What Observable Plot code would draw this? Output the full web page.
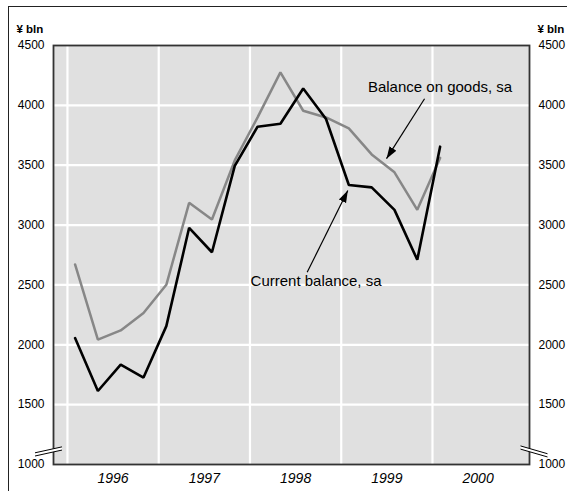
<!DOCTYPE html>
<html><head><meta charset="utf-8">
<script src="https://cdn.jsdelivr.net/npm/d3@7"></script>
<script src="https://cdn.jsdelivr.net/npm/@observablehq/plot@0.6"></script>
<style>
body{margin:0;background:#fff;}
#wrap{position:relative;width:567px;height:491px;overflow:hidden;}
#wrap svg{position:absolute;left:0;top:0;}
#border{position:absolute;left:8px;top:6px;width:600px;height:600px;border-top:1.5px solid #222;border-left:1.5px solid #222;pointer-events:none;}
</style></head><body>
<div id="wrap"><div id="border"></div></div>
<script>
const quarters = ["1996 Q1","1996 Q2","1996 Q3","1996 Q4","1997 Q1","1997 Q2","1997 Q3","1997 Q4",
  "1998 Q1","1998 Q2","1998 Q3","1998 Q4","1999 Q1","1999 Q2","1999 Q3","1999 Q4","2000 Q1"];
const currentBalance = [2056,1614,1834,1726,2156,2977,2773,3495,3822,3846,4141,3886,3335,3315,3127,2710,3655];
const goodsBalance   = [2671,2043,2120,2265,2501,3186,3046,3540,3900,4275,3955,3899,3808,3590,3441,3127,3561];
const yTicks = [1000,1500,2000,2500,3000,3500,4000,4500];
const years = [1996,1997,1998,1999,2000];
const unitLabel = "¥ bln";
const annotations = [
  {label: "Balance on goods, sa", tx: 2000.083, ty: 4150, x1: 1999.913, y1: 4055, x2: 1999.496, y2: 3555},
  {label: "Current balance, sa", tx: 1998.724, ty: 2529, x1: 1998.627, y1: 2606, x2: 1999.072, y2: 3288}
];

const qPos = q => { const [y, n] = q.split(" Q"); return +y + (+n - 1) / 4 + 1 / 12; };
const rows = quarters.map((q, i) => ({t: qPos(q), current: currentBalance[i], goods: goodsBalance[i]}));

const font = "Liberation Sans, Arial, Helvetica, sans-serif";
const plot = Plot.plot({
  width: 567, height: 491,
  marginLeft: 53, marginRight: 38, marginTop: 45, marginBottom: 27,
  style: {fontFamily: font, fontSize: "12px", background: "transparent", color: "#000"},
  x: {domain: [1995.847, 2001.063], axis: null},
  y: {domain: [1000, 4500], axis: "both", ticks: yTicks, tickSize: 0, tickPadding: 9, label: null, tickFormat: d => String(d)},
  marks: [
    Plot.frame({fill: "#e0e0e0", stroke: null}),
    Plot.ruleY(yTicks.slice(1, -1), {stroke: "#fff", strokeWidth: 2.2}),
    Plot.ruleX(years, {stroke: "#fff", strokeWidth: 2.2}),
    Plot.line(rows, {x: "t", y: "goods", stroke: "#878787", strokeWidth: 2.5, strokeLinejoin: "miter"}),
    Plot.line(rows, {x: "t", y: "current", stroke: "#000", strokeWidth: 2.6, strokeLinejoin: "miter"}),
    Plot.link(annotations, {x1: "x1", y1: "y1", x2: "x2", y2: "y2", stroke: "#000", strokeWidth: 1.2}),
    Plot.text(annotations, {x: "tx", y: "ty", text: "label", fontSize: 15, fill: "#000"}),
    Plot.text(years, {x: d => d + 0.5, text: d => String(d), frameAnchor: "bottom", dy: 18.5, fontSize: 14, fontStyle: "italic", fill: "#000"}),
    Plot.text([unitLabel], {text: d => d, frameAnchor: "top-left", dx: -37, dy: -21, textAnchor: "start", fontWeight: "bold", fontSize: 11.5, fill: "#000"}),
    Plot.text([unitLabel], {text: d => d, frameAnchor: "top-right", dx: 8, dy: -21, textAnchor: "start", fontWeight: "bold", fontSize: 11.5, fill: "#000"}),
    Plot.frame({stroke: "#333", strokeWidth: 1.8})
  ]
});

const svg = d3.select(plot);
const defs = svg.append("defs");
defs.append("marker").attr("id", "head").attr("viewBox", "0 -5 12 10").attr("refX", 12).attr("refY", 0)
  .attr("markerWidth", 12).attr("markerHeight", 10).attr("markerUnits", "userSpaceOnUse").attr("orient", "auto")
  .append("path").attr("d", "M0,-4L12,0L0,4Z").attr("fill", "#000");
svg.selectAll('g[aria-label="link"] path').attr("marker-end", "url(#head)");

// axis break symbols
const xs = plot.scale("x"), ys = plot.scale("y");
const xL = xs.apply(xs.domain[0]), xR = xs.apply(xs.domain[1]), yb = ys.apply(1105);
function brk(cx, slope) {
  const g = svg.append("g");
  const hw = 13.5, gap = 1.6;
  const p = (dx, off) => [cx + dx, yb - slope * dx + off];
  const pts = [p(-hw, -gap), p(hw, -gap), p(hw, gap), p(-hw, gap)];
  g.append("polygon").attr("points", pts.map(d => d.join(",")).join(" ")).attr("fill", "#fff");
  [-gap, gap].forEach(o => {
    const a = p(-hw, o), b = p(hw, o);
    g.append("line").attr("x1", a[0]).attr("y1", a[1]).attr("x2", b[0]).attr("y2", b[1]).attr("stroke", "#000").attr("stroke-width", 1);
  });
}
brk(xL - 4.5, 0.22);
brk(xR + 5, -0.29);

document.getElementById("wrap").appendChild(plot);
</script>
</body></html>
